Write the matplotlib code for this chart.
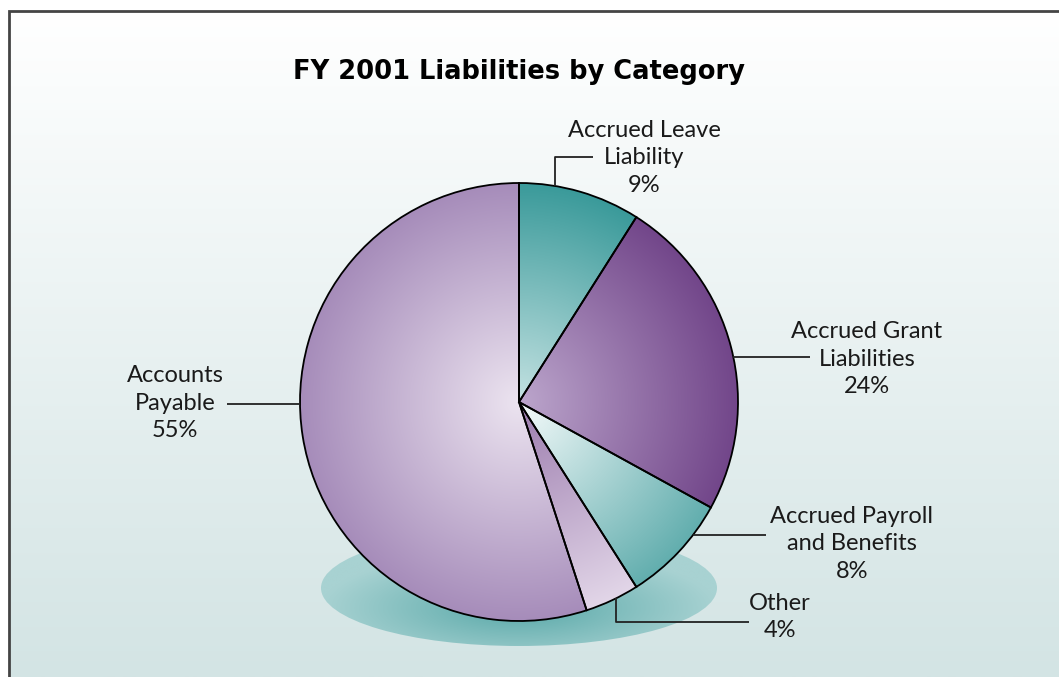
import numpy as np
import matplotlib.pyplot as plt
from matplotlib.colors import to_rgb
from matplotlib.patches import Ellipse

# Datos del gráfico
categories = ["Accrued Leave\nLiability", "Accrued Grant\nLiabilities",
              "Accrued Payroll\nand Benefits", "Other", "Accounts\nPayable"]
shares = [9, 24, 8, 4, 55]
title = "FY 2001 Liabilities by Category"

# Colores del degradado radial (centro, borde) por sector
inner_colors = ["#c4e2e2", "#bca6cc", "#f6fbfb", "#9c7cae", "#ece4f0"]
outer_colors = ["#3a9a9a", "#72468a", "#62aeae", "#e2d6e8", "#a68cba"]

# Geometría en píxeles (eje y hacia arriba)
W, H = 1059, 677
cx, cy, R = 519, H - 402, 219

fig = plt.figure(figsize=(W / 100, H / 100), dpi=100)
fig.patch.set_facecolor("white")
ax = fig.add_axes([0, 0, 1, 1])

# Fondo con degradado vertical
g = np.linspace(0, 1, 256)[:, None, None]
bg = np.array([1.0, 1.0, 1.0]) * (1 - g) + np.array(to_rgb("#d3e4e4")) * g
ax.imshow(bg, extent=[9, W, 0, H - 11], aspect="auto", origin="upper", zorder=0)

# Sombra elíptica bajo el pie
sx, sy, sw, sh = cx, H - 588, 396, 116
shadow = Ellipse((sx, sy), sw, sh, facecolor="none", edgecolor="none", zorder=1)
ax.add_patch(shadow)
yy, xx = np.mgrid[sy + sh / 2:sy - sh / 2:200j, sx - sw / 2:sx + sw / 2:400j]
re = np.clip(np.hypot((xx - sx) / (sw / 2), (yy - sy + 20) / (sh / 2)), 0, 1)[..., None]
sh_img = np.array(to_rgb("#58a8a8")) * (1 - re) + np.array(to_rgb("#a8d2d2")) * re
im = ax.imshow(sh_img, extent=[sx - sw / 2, sx + sw / 2, sy - sh / 2, sy + sh / 2],
               aspect="auto", origin="upper", zorder=1)
im.set_clip_path(shadow)

# Pie
wedges, _ = ax.pie(shares, startangle=90, counterclock=False, center=(cx, cy),
                   radius=R, wedgeprops=dict(facecolor="none", edgecolor="black",
                                             linewidth=1.3))
yy, xx = np.mgrid[cy + R:cy - R:500j, cx - R:cx + R:500j]
t = np.clip(np.hypot(xx - cx, yy - cy) / R, 0, 1)[..., None]
for w, ci, co in zip(wedges, inner_colors, outer_colors):
    img = np.array(to_rgb(ci)) * (1 - t) + np.array(to_rgb(co)) * t
    im = ax.imshow(img, extent=[cx - R, cx + R, cy - R, cy + R], aspect="auto",
                   origin="upper", zorder=2)
    im.set_clip_path(w)
    w.set_zorder(3)

# Etiquetas y líneas guía
label_xy = [(644, 158), (867, 359), (852, 544), (780, 617), (175, 403)]
anchor_deg = [80.5, 11.8, -37.4, -63.7, 180.5]
leader_pts = [[(None, 157), (593, 157)], [(810, None)], [(766, None)],
              [(None, 622), (749, 622)], [(227, None)]]

for cat, val, (lx, ly), a, pts in zip(categories, shares, label_xy, anchor_deg, leader_pts):
    ax.text(lx, H - ly, f"{cat}\n{val}%", ha="center", va="center",
            fontsize=17, family="Lato", linespacing=1.36, color="#1a1a1a", zorder=5)
    x0 = cx + R * np.cos(np.radians(a))
    y0 = cy + R * np.sin(np.radians(a))
    xs, ys = [x0], [y0]
    for px, py in pts:
        xs.append(xs[-1] if px is None else px)
        ys.append(ys[-1] if py is None else H - py)
    ax.plot(xs, ys, color="#222222", lw=1.3, zorder=4, solid_capstyle="butt")

ax.text(519, H - 72, title, ha="center", va="center", fontsize=18.5,
        fontweight="bold", family="DejaVu Sans", color="black", zorder=5)

# Marco (solo arriba e izquierda visibles)
ax.plot([9, 9, W], [0, H - 11, H - 11], color="#444444", lw=2, zorder=6,
        solid_joinstyle="miter")

ax.set_xlim(0, W)
ax.set_ylim(0, H)
ax.set_aspect("auto")
ax.axis("off")
fig.savefig("out.png", dpi=100, facecolor="white")
